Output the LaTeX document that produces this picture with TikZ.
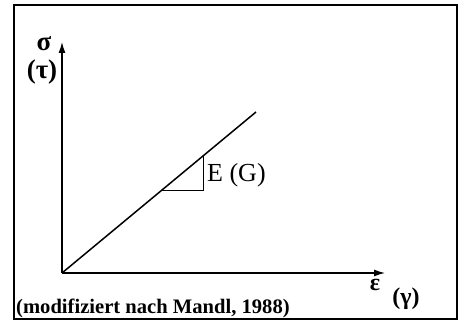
\documentclass[tikz,border=0pt]{standalone}
\usepackage{fontspec}
\setmainfont{Liberation Serif}
\usetikzlibrary{arrows.meta,calc}
\begin{document}
\begin{tikzpicture}[x=1pt,y=-1pt,
  frame/.style={line width=1.8pt},
  axis/.style={line width=1.3pt,-{Latex[length=11pt,width=7pt]}},
  curve/.style={line width=1.5pt},
  tri/.style={line width=0.9pt},
  lbl/.style={inner sep=0pt,font=\fontsize{26}{28}\selectfont},
  blbl/.style={inner sep=0pt,font=\fontsize{27}{29}\selectfont\bfseries},
  captext/.style={inner sep=0pt,anchor=base west,font=\fontsize{20.6}{22}\selectfont\bfseries}]
\useasboundingbox (0,0) rectangle (459,321);
\draw[frame] (14,5) rectangle (457,319);
\coordinate (O) at (62,273);
\coordinate (Y) at (62,42);
\coordinate (X) at (385,273);
\coordinate (L) at (256,112);
\draw[axis] (O) -- (Y);
\draw[axis] (O) -- (X);
\draw[curve] (O) -- (L);
\coordinate (P1) at ($(O)!0.515!(L)$);
\coordinate (P2) at ($(O)!0.727!(L)$);
\coordinate (C) at (P2 |- P1);
\draw[tri] (P1) -- (C) -- (P2);
\node[lbl,anchor=west] (E) at (207,175) {E (G)};
\node[blbl] (sig) at (44,44) {σ};
\node[blbl] (tau) at (42,72) {(τ)};
\node[blbl,font=\fontsize{24}{26}\selectfont\bfseries] (eps) at (375,285) {ε};
\node[blbl,font=\fontsize{24}{26}\selectfont\bfseries] (gam) at (406,299) {(γ)};
\node[captext] (caption) at (16,313) {(modifiziert nach Mandl, 1988)};
\end{tikzpicture}
\end{document}
